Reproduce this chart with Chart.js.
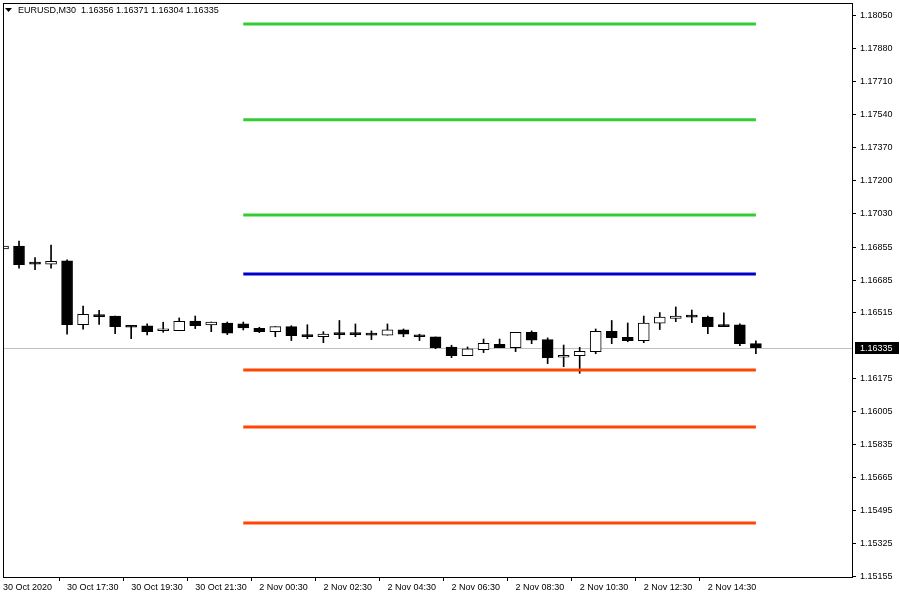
<!DOCTYPE html>
<html>
<head>
<meta charset="utf-8">
<script src="https://cdn.jsdelivr.net/npm/chart.js@4"></script>
<style>
  html, body { margin: 0; padding: 0; background: #fff; }
  #wrap { position: relative; width: 900px; height: 600px; }
</style>
</head>
<body>
<div id="wrap"><canvas id="chart" width="900" height="600"></canvas></div>
<script>
// EURUSD M30, 30 Oct 15:30 .. 2 Nov 16:00
const symbol = 'EURUSD,M30';
const opens = [
  1.16846, 1.16861, 1.16767, 1.16767, 1.16784, 1.16454, 1.16504, 1.16499, 1.16449, 1.16448,
  1.16423, 1.16423, 1.16473, 1.16453, 1.16463, 1.16458, 1.16436, 1.16418, 1.16444, 1.16403,
  1.16392, 1.16411, 1.16411, 1.16408, 1.16400, 1.16427, 1.16401, 1.16391, 1.16339, 1.16294,
  1.16325, 1.16353, 1.16335, 1.16415, 1.16377, 1.16286, 1.16294, 1.16315, 1.16420, 1.16389,
  1.16372, 1.16462, 1.16487, 1.16499, 1.16494, 1.16453, 1.16453, 1.16356
];
const highs = [
  1.16887, 1.16887, 1.16801, 1.16866, 1.16789, 1.16551, 1.16529, 1.16499, 1.16449, 1.16459,
  1.16467, 1.16489, 1.16499, 1.16468, 1.16468, 1.16468, 1.16441, 1.16444, 1.16449, 1.16454,
  1.16418, 1.16476, 1.16458, 1.16422, 1.16458, 1.16432, 1.16405, 1.16391, 1.16348, 1.16339,
  1.16380, 1.16380, 1.16415, 1.16422, 1.16386, 1.16349, 1.16337, 1.16432, 1.16476, 1.16463,
  1.16499, 1.16517, 1.16546, 1.16530, 1.16499, 1.16515, 1.16458, 1.16371
];
const lows = [
  1.16763, 1.16746, 1.16739, 1.16746, 1.16405, 1.16431, 1.16456, 1.16408, 1.16382, 1.16401,
  1.16415, 1.16423, 1.16434, 1.16418, 1.16403, 1.16427, 1.16413, 1.16392, 1.16372, 1.16382,
  1.16361, 1.16382, 1.16392, 1.16377, 1.16400, 1.16392, 1.16372, 1.16330, 1.16284, 1.16294,
  1.16310, 1.16335, 1.16315, 1.16356, 1.16253, 1.16237, 1.16203, 1.16304, 1.16356, 1.16366,
  1.16361, 1.16429, 1.16470, 1.16465, 1.16408, 1.16444, 1.16346, 1.16304
];
const closes = [
  1.16861, 1.16765, 1.16767, 1.16782, 1.16454, 1.16508, 1.16496, 1.16444, 1.16441, 1.16418,
  1.16424, 1.16472, 1.16449, 1.16468, 1.16410, 1.16437, 1.16418, 1.16444, 1.16397, 1.16392,
  1.16406, 1.16403, 1.16403, 1.16400, 1.16427, 1.16405, 1.16392, 1.16335, 1.16294, 1.16329,
  1.16358, 1.16335, 1.16415, 1.16374, 1.16284, 1.16296, 1.16317, 1.16420, 1.16387, 1.16372,
  1.16462, 1.16493, 1.16499, 1.16493, 1.16444, 1.16444, 1.16356, 1.16335
];
// one label every 4 bars
const tickLabels = [
  '30 Oct 2020', '30 Oct 17:30', '30 Oct 19:30', '30 Oct 21:30', '2 Nov 00:30', '2 Nov 02:30',
  '2 Nov 04:30', '2 Nov 06:30', '2 Nov 08:30', '2 Nov 10:30', '2 Nov 12:30', '2 Nov 14:30'
];
const yTicks = [
  1.18050, 1.17880, 1.17710, 1.17540, 1.17370, 1.17200, 1.17030, 1.16855, 1.16685,
  1.16515, 1.16175, 1.16005, 1.15835, 1.15665, 1.15495, 1.15325, 1.15155
];
const levels = [1.18009, 1.17513, 1.17021, 1.16716, 1.16220, 1.15925, 1.15429];
const levelColors = ['#32cd32', '#32cd32', '#32cd32', '#0000cd', '#ff4500', '#ff4500', '#ff4500'];
const levelStart = 15;   // levels drawn from bar 15 to the last bar
const bid = 1.16335;
const chartShift = 6;    // empty bars on the right

const nBars = opens.length;
const labels = [];
for (let i = 0; i < nBars + chartShift; i++) labels.push(String(i));

const FONT = { family: "'Liberation Sans', Arial, sans-serif", size: 9 };

const frame = {
  id: 'frame',
  beforeDatasetsDraw(chart) {
    const { ctx, chartArea: a, scales: { y } } = chart;
    const py = Math.round(y.getPixelForValue(bid)) + 0.5;
    ctx.save();
    ctx.strokeStyle = '#c0c0c0';
    ctx.lineWidth = 1;
    ctx.beginPath();
    ctx.moveTo(a.left, py);
    ctx.lineTo(a.right, py);
    ctx.stroke();
    ctx.restore();
  },
  afterDraw(chart) {
    const { ctx, chartArea: a, scales: { y } } = chart;
    ctx.save();
    ctx.strokeStyle = '#000';
    ctx.lineWidth = 1;
    ctx.strokeRect(a.left + 0.5, a.top + 0.5, a.right - a.left, a.bottom - a.top);

    // bid label on the price axis
    const py = Math.round(y.getPixelForValue(bid));
    ctx.fillStyle = '#000';
    ctx.fillRect(a.right + 3, py - 6, 44, 12);
    ctx.fillStyle = '#fff';
    ctx.font = FONT.size + 'px ' + FONT.family;
    ctx.textBaseline = 'middle';
    ctx.textAlign = 'left';
    ctx.fillText(bid.toFixed(5), a.right + 8, py + 0.5);

    // header
    const last = nBars - 1;
    ctx.fillStyle = '#000';
    ctx.beginPath();
    ctx.moveTo(5, 8);
    ctx.lineTo(12, 8);
    ctx.lineTo(8.5, 12);
    ctx.closePath();
    ctx.fill();
    const ohlc = [opens[last], highs[last], lows[last], closes[last]].map(v => v.toFixed(5)).join(' ');
    ctx.fillText(symbol + '  ' + ohlc, 18, 11);
    ctx.restore();
  }
};

const levelSets = levels.map((lv, k) => ({
  type: 'line',
  data: labels.map((_, i) => (i >= levelStart && i < nBars ? lv : null)),
  borderColor: levelColors[k],
  borderWidth: 3,
  pointRadius: 0,
  spanGaps: false,
  order: 0,
}));

new Chart(document.getElementById('chart'), {
  type: 'bar',
  data: {
    labels,
    datasets: [
      {
        // wicks
        data: opens.map((_, i) => [lows[i], highs[i]]),
        backgroundColor: '#000',
        barThickness: 1,
        grouped: false,
        clip: 0,
        order: 2,
      },
      {
        // bodies
        data: opens.map((o, i) => [o, closes[i]]),
        backgroundColor: opens.map((o, i) => (closes[i] > o ? '#fff' : '#000')),
        borderColor: '#000',
        borderWidth: 1,
        borderSkipped: false,
        barThickness: 11,
        minBarLength: 2,
        grouped: false,
        clip: 0,
        order: 1,
      },
      ...levelSets,
    ],
  },
  options: {
    responsive: false,
    animation: false,
    devicePixelRatio: 1,
    layout: { padding: { left: 3, top: 3, right: 0, bottom: 0 } },
    plugins: { legend: { display: false }, tooltip: { enabled: false } },
    scales: {
      x: {
        type: 'category',
        offset: false,
        border: { display: true, color: '#000' },
        grid: {
          drawOnChartArea: false,
          drawTicks: true,
          tickLength: 4,
          color: c => (c.index % 4 === 0 && c.index < nBars ? '#000' : 'rgba(0,0,0,0)'),
        },
        ticks: {
          autoSkip: false,
          maxRotation: 0,
          align: 'start',
          padding: 1,
          color: '#000',
          font: FONT,
          callback: (v, i) => (i % 4 === 0 && i / 4 < tickLabels.length ? tickLabels[i / 4] : ''),
        },
        afterFit: s => { s.height = 23; s.paddingLeft = 0; s.paddingRight = 0; },
      },
      y: {
        position: 'right',
        min: 1.15150,
        max: 1.18117,
        border: { display: true, color: '#000' },
        grid: { drawOnChartArea: false, drawTicks: true, tickLength: 4, color: '#000' },
        ticks: {
          padding: 4,
          color: '#000',
          font: FONT,
          callback: v => Number(v).toFixed(5),
        },
        afterBuildTicks: s => { s.ticks = yTicks.map(v => ({ value: v })); },
        afterFit: s => { s.width = 48; s.paddingTop = 0; s.paddingBottom = 0; },
      },
    },
  },
  plugins: [frame],
});
</script>
</body>
</html>
